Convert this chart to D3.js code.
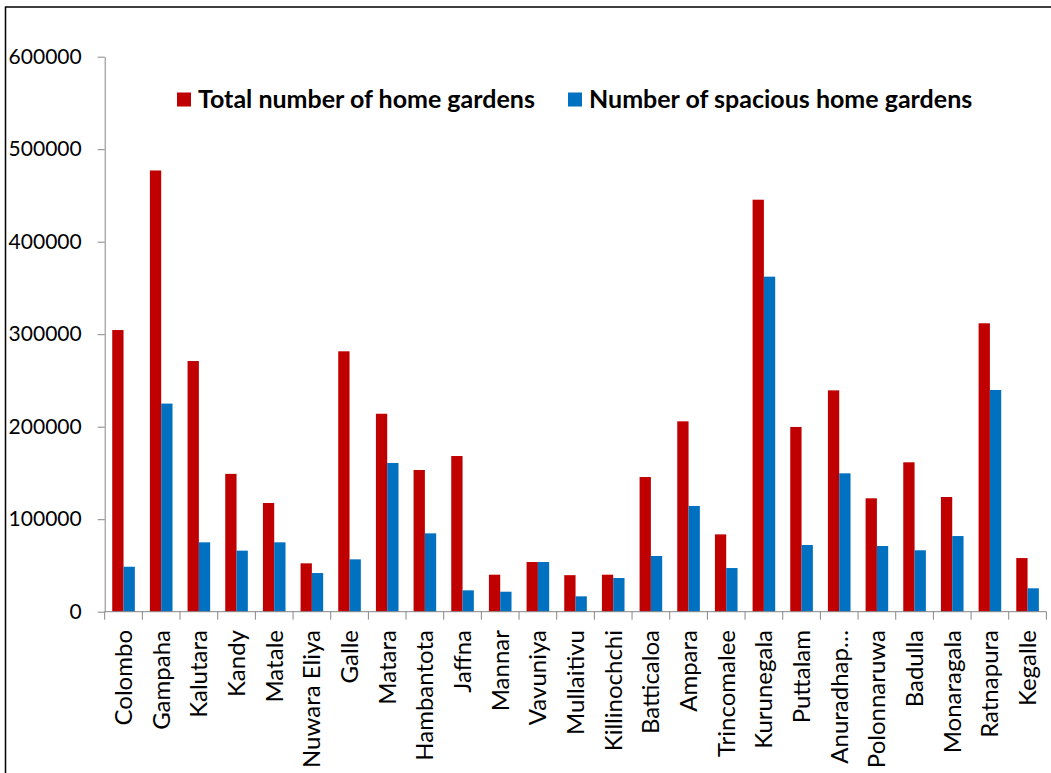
<!DOCTYPE html>
<html>
<head>
<meta charset="utf-8" />
<title>Home gardens by district</title>
<script src="https://d3js.org/d3.v7.min.js"></script>
<style>
body { margin: 0; background: #fff; }
svg { display: block; font-family: Lato, "Noto Sans", sans-serif; }
.ytick text { font-size: 21px; fill: #000; }
.xlab { font-size: 24px; fill: #000; }
.legend text { font-size: 25px; font-weight: bold; fill: #000; }
</style>
</head>
<body>
<div id="chart"></div>
<script>
// districts
var districts = ["Colombo", "Gampaha", "Kalutara", "Kandy", "Matale", "Nuwara Eliya",
    "Galle", "Matara", "Hambantota", "Jaffna", "Mannar", "Vavuniya", "Mullaitivu",
    "Killinochchi", "Batticaloa", "Ampara", "Trincomalee", "Kurunegala", "Puttalam",
    "Anuradhap\u2026", "Polonnaruwa", "Badulla", "Monaragala", "Ratnapura", "Kegalle"];
var totalGardens = [304500, 477000, 271000, 149000, 117500, 52300, 281500, 214000,
    153200, 168300, 40000, 53700, 39500, 40000, 145600, 205800, 83600, 445400,
    199700, 239300, 122600, 161500, 124000, 311800, 58000];
var spaciousGardens = [48600, 225000, 75000, 66000, 75000, 41800, 56600, 160800,
    84700, 23100, 21600, 53700, 16600, 36400, 60200, 114300, 47200, 362200,
    72100, 149600, 71000, 66400, 81800, 239700, 25300];
var seriesNames = ["Total number of home gardens", "Number of spacious home gardens"];
var seriesColors = ["#c00000", "#0070c0"];
var yTicks = [0, 100000, 200000, 300000, 400000, 500000, 600000];

var width = 1051, height = 773;
var plotLeft = 104.7, plotRight = 1046.4, plotTop = 56.7, plotBottom = 611.7;

var svg = d3.select("#chart").append("svg")
    .attr("width", width).attr("height", height);

// outer frame (only top and left edges fall inside the picture)
svg.append("path")
    .attr("d", "M5.5," + height + "V7H" + width)
    .attr("fill", "none").attr("stroke", "#000").attr("stroke-width", 1.5);

var x0 = d3.scaleBand().domain(districts).range([plotLeft, plotRight]).padding(0);
var x1 = d3.scaleBand().domain([0, 1]).range([0, x0.bandwidth()])
    .paddingInner(0).paddingOuter(0.667);
var y = d3.scaleLinear().domain([0, 600000]).range([plotBottom, plotTop]);

// y axis
var yAxis = svg.append("g").attr("class", "ytick")
    .attr("transform", "translate(" + plotLeft + ",0)")
    .call(d3.axisLeft(y).tickValues(yTicks).tickSize(7).tickPadding(16).tickSizeOuter(0)
        .tickFormat(d3.format("d")));
yAxis.selectAll("line, path").attr("stroke", "#868686");
yAxis.selectAll("text").attr("font-family", null);
yAxis.attr("font-size", null).attr("font-family", null);

// bars
var groups = svg.append("g").selectAll("g")
    .data(districts).enter().append("g")
    .attr("transform", function(d) { return "translate(" + x0(d) + ",0)"; });
groups.selectAll("rect")
    .data(function(d, i) { return [totalGardens[i], spaciousGardens[i]]; })
    .enter().append("rect")
    .attr("x", function(d, j) { return x1(j); })
    .attr("width", x1.bandwidth())
    .attr("y", function(d) { return y(d); })
    .attr("height", function(d) { return y(0) - y(d); })
    .attr("fill", function(d, j) { return seriesColors[j]; });

// x axis line with ticks at category boundaries
var xAxis = svg.append("g");
xAxis.append("line")
    .attr("x1", plotLeft).attr("x2", plotRight).attr("y1", plotBottom).attr("y2", plotBottom)
    .attr("stroke", "#868686");
var bounds = districts.map(function(d) { return x0(d); }).concat([plotRight]);
xAxis.selectAll(".tk").data(bounds).enter().append("line")
    .attr("x1", function(d) { return d; }).attr("x2", function(d) { return d; })
    .attr("y1", plotBottom).attr("y2", plotBottom + 8)
    .attr("stroke", "#868686");

svg.append("g").selectAll("text")
    .data(districts).enter().append("text")
    .attr("class", "xlab")
    .attr("transform", function(d) {
        return "translate(" + (x0(d) + x0.bandwidth() / 2) + ",630) rotate(-90)";
    })
    .attr("text-anchor", "end")
    .attr("dy", "0.35em")
    .text(function(d) { return d; });

// legend
var legendX = [177, 568];
var legend = svg.append("g").attr("class", "legend");
seriesNames.forEach(function(name, i) {
    legend.append("rect")
        .attr("x", legendX[i]).attr("y", 92.5)
        .attr("width", 14).attr("height", 14)
        .attr("fill", seriesColors[i]);
    legend.append("text")
        .attr("x", legendX[i] + 21).attr("y", 107.5)
        .text(name);
});
</script>
</body>
</html>
